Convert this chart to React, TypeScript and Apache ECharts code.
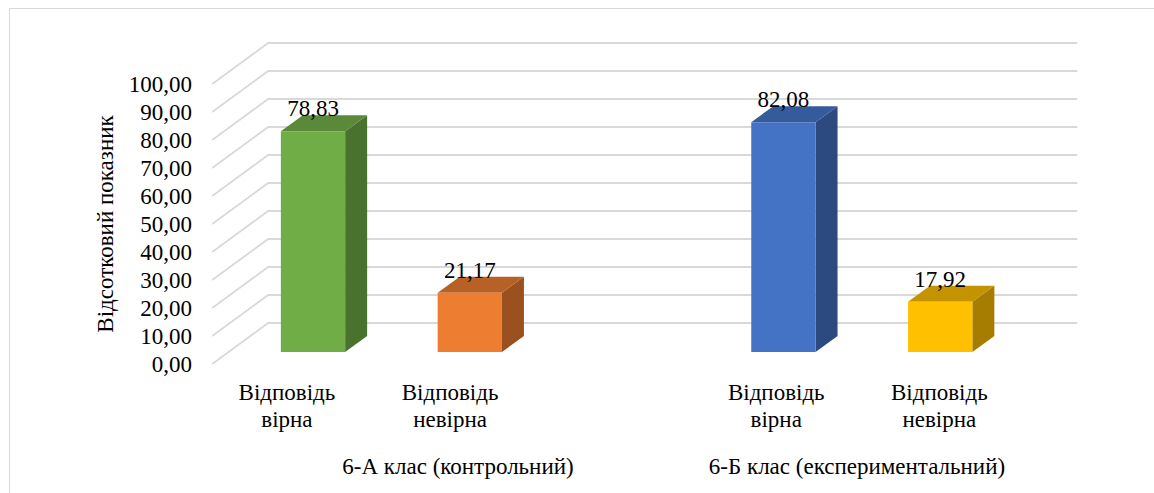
import React, { useEffect, useRef } from 'react';
import * as echarts from 'echarts';

// ---- data ----
const CATEGORIES = ['Відповідь\nвірна', 'Відповідь\nневірна', '', 'Відповідь\nвірна', 'Відповідь\nневірна'];
const GROUPS = ['6-А клас (контрольний)', '6-Б клас (експериментальний)'];
const SLOTS = [0, 1, 3, 4];
const VALUES = [78.83, 21.17, 82.08, 17.92];
const Y_TICKS = [0, 10, 20, 30, 40, 50, 60, 70, 80, 90, 100];
const Y_TITLE = 'Відсотковий показник';

// ---- styles ----
const FRONT_COLORS = ['#70AD47', '#ED7D31', '#4472C4', '#FFC000'];
const TOP_COLORS = ['#5A8A39', '#B86126', '#365B9D', '#C49400'];
const SIDE_COLORS = ['#4A722F', '#9A511F', '#2C4A7F', '#A67D00'];
const FONT = 'Liberation Serif, Times New Roman, serif';
const GRID_COLOR = '#D9D9D9';
const DEPTH_X = 56;
const DEPTH_Y = -41;
const BAR_FRONT_DX = 16.4;
const BAR_FRONT_DY = -12;
const BAR_DEPTH_X = 22;
const BAR_DEPTH_Y = -16;
const FLOOR_PAD_L = 6;
const FLOOR_PAD_R = 19;

const fmt = (v: number) => v.toFixed(2).replace('.', ',');

export default function App() {
  const ref = useRef<HTMLDivElement>(null);
  useEffect(() => {
    if (!ref.current) return;
    const chart = echarts.init(ref.current, null, { renderer: 'svg' });
    const textBase = { fontFamily: FONT, fontSize: 23, color: '#000' };
    chart.setOption({
      animation: false,
      backgroundColor: '#fff',
      textStyle: { fontFamily: FONT },
      graphic: [
        {
          type: 'rect',
          left: 7,
          top: 6,
          shape: { x: 0.5, y: 0.5, width: 1200, height: 600 },
          style: { fill: 'none', stroke: GRID_COLOR, lineWidth: 1 },
          silent: true,
        },
      ],
      grid: [
        { left: 205.4, width: 815.5, top: 84, height: 280 },
        { left: 218.2, width: 784, top: 84, height: 280 },
        { left: 258.5, width: 798, top: 84, height: 280 },
      ],
      xAxis: [
        {
          gridIndex: 0,
          type: 'category',
          data: CATEGORIES,
          axisLine: { show: false },
          axisTick: { show: false },
          axisLabel: { ...textBase, lineHeight: 27, margin: 15, interval: 0 },
        },
        { gridIndex: 1, type: 'category', data: CATEGORIES.map((_, i) => 'c' + i), show: false },
        {
          gridIndex: 2,
          type: 'category',
          data: GROUPS,
          axisLine: { show: false },
          axisTick: { show: false },
          axisLabel: { ...textBase, lineHeight: 26, margin: 89, interval: 0 },
        },
      ],
      yAxis: [
        {
          gridIndex: 0,
          type: 'value',
          min: 0,
          max: 100,
          interval: 10,
          axisLine: { show: false },
          axisTick: { show: false },
          splitLine: { show: false },
          axisLabel: { ...textBase, margin: 13.4, formatter: (v: number) => fmt(v) },
          name: Y_TITLE,
          nameLocation: 'middle',
          nameGap: 88,
          nameTextStyle: { fontFamily: FONT, fontSize: 23, color: '#000' },
        },
        { gridIndex: 1, type: 'value', min: 0, max: 100, interval: 10, show: false },
        { gridIndex: 2, type: 'value', min: 0, max: 100, interval: 10, show: false },
      ],
      series: [
        {
          type: 'custom',
          xAxisIndex: 1,
          yAxisIndex: 1,
          silent: true,
          z: 1,
          data: Y_TICKS.map((v) => [0, v]),
          renderItem: (params: any, api: any) => {
            const cs = params.coordSys;
            const p = api.coord([0, api.value(1)]);
            const y = p[1];
            const x0 = cs.x - FLOOR_PAD_L;
            const x1 = x0 + DEPTH_X;
            const x2 = cs.x + cs.width + FLOOR_PAD_R + DEPTH_X;
            return {
              type: 'polyline',
              shape: { points: [[x0, y], [x1, y + DEPTH_Y], [x2, y + DEPTH_Y]] },
              style: { stroke: GRID_COLOR, lineWidth: 1.8, fill: null },
            };
          },
        },
        {
          type: 'custom',
          xAxisIndex: 1,
          yAxisIndex: 1,
          z: 2,
          data: SLOTS.map((s, i) => [s, VALUES[i]]),
          renderItem: (params: any, api: any) => {
            const i = params.dataIndex;
            const base = api.coord([api.value(0), 0]);
            const top = api.coord([api.value(0), api.value(1)]);
            const w = api.size([1, 0])[0] * 0.41;
            const cx = base[0] + BAR_FRONT_DX;
            const l = cx - w / 2;
            const r = cx + w / 2;
            const yb = base[1] + BAR_FRONT_DY;
            const yt = top[1] + BAR_FRONT_DY;
            return {
              type: 'group',
              children: [
                {
                  type: 'polygon',
                  shape: {
                    points: [[r, yt], [r + BAR_DEPTH_X, yt + BAR_DEPTH_Y], [r + BAR_DEPTH_X, yb + BAR_DEPTH_Y], [r, yb]],
                  },
                  style: { fill: SIDE_COLORS[i] },
                },
                {
                  type: 'polygon',
                  shape: {
                    points: [[l, yt], [l + BAR_DEPTH_X, yt + BAR_DEPTH_Y], [r + BAR_DEPTH_X, yt + BAR_DEPTH_Y], [r, yt]],
                  },
                  style: { fill: TOP_COLORS[i] },
                },
                {
                  type: 'rect',
                  shape: { x: l, y: yt, width: w, height: yb - yt },
                  style: { fill: FRONT_COLORS[i] },
                },
                {
                  type: 'text',
                  x: cx,
                  y: yt + BAR_DEPTH_Y + 5,
                  style: {
                    text: fmt(api.value(1)),
                    fill: '#000',
                    fontFamily: FONT,
                    fontSize: 23,
                    align: 'center',
                    verticalAlign: 'bottom',
                  },
                },
              ],
            };
          },
        },
      ],
    });
    return () => chart.dispose();
  }, []);
  return (
    <div
      ref={ref}
      style={{ position: 'fixed', left: 0, top: 0, width: 1154, height: 493, background: '#fff' }}
    />
  );
}
